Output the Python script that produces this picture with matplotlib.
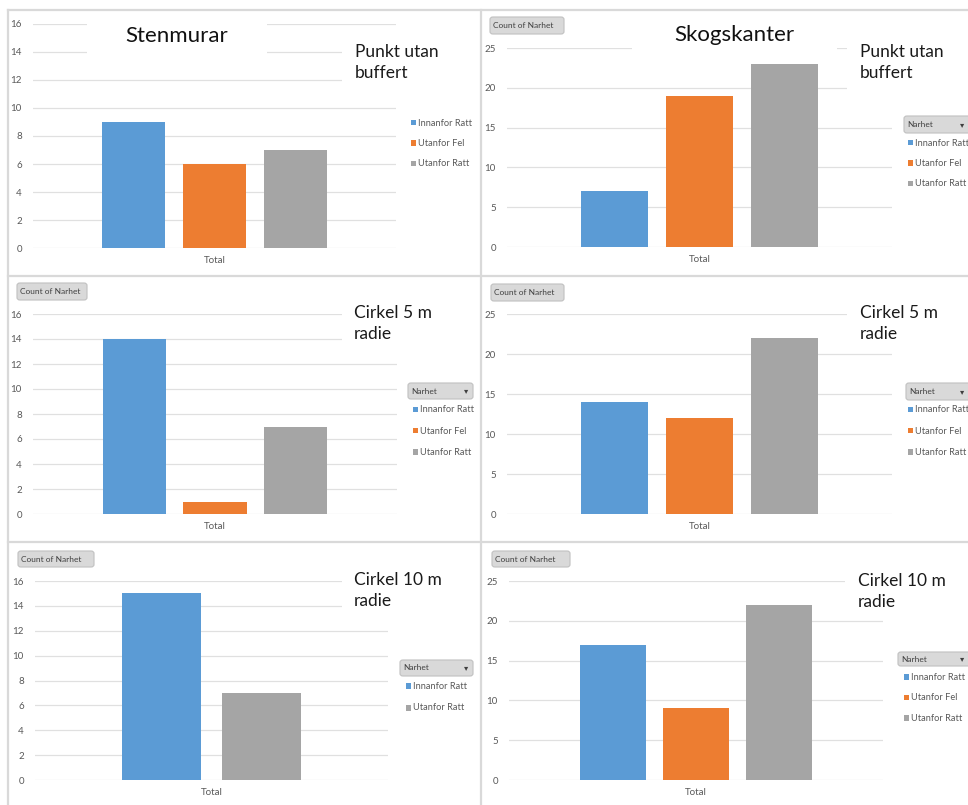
import matplotlib.pyplot as plt
from matplotlib.patches import Rectangle, FancyBboxPatch
from matplotlib.lines import Line2D

plt.rcParams['font.family'] = ['Lato', 'DejaVu Sans']

W, H = 968, 805

series3 = ["Innanfor Ratt", "Utanfor Fel", "Utanfor Ratt"]
series2 = ["Innanfor Ratt", "Utanfor Ratt"]
colors = {"Innanfor Ratt": "#5B9BD5", "Utanfor Fel": "#ED7D31", "Utanfor Ratt": "#A5A5A5"}

sten_punkt = [9, 6, 7]
sten_cirkel5 = [14, 1, 7]
sten_cirkel10 = [15, 7]
skog_punkt = [7, 19, 23]
skog_cirkel5 = [14, 12, 22]
skog_cirkel10 = [17, 9, 22]

sten_ticks = [0, 2, 4, 6, 8, 10, 12, 14, 16]
skog_ticks = [0, 5, 10, 15, 20, 25]
category = "Total"

fig = plt.figure(figsize=(W / 100, H / 100), dpi=100)
fig.patch.set_facecolor("white")


def fx(px):
    return px / W


def fy(py):
    return 1 - py / H


def white_box(x0, x1, y0, y1):
    fig.patches.append(Rectangle((fx(x0), fy(y1)), (x1 - x0) / W, (y1 - y0) / H,
                                 transform=fig.transFigure, facecolor="white",
                                 edgecolor="none", zorder=2))


def button(x0, x1, y0, y1, label, arrow=False):
    fig.patches.append(FancyBboxPatch((fx(x0), fy(y1)), (x1 - x0) / W, (y1 - y0) / H,
                                      boxstyle="round,pad=0,rounding_size=0.003",
                                      transform=fig.transFigure, facecolor="#d9d9d9",
                                      edgecolor="#c0c0c0", linewidth=0.8, zorder=3))
    fig.text(fx(x0 + 3), fy((y0 + y1) / 2), label, fontsize=6, color="#404040",
             ha="left", va="center", zorder=4)
    if arrow:
        fig.text(fx(min(x1 - 7, 962)), fy((y0 + y1) / 2), "\u25be", fontsize=6,
                 color="#404040", ha="center", va="center", family="DejaVu Sans", zorder=4)


def panel(box, values, names, ticks, sub, sub_xy, legend_x, legend_y, gap):
    x0, x1, y0, y1 = box
    ax = fig.add_axes([fx(x0), fy(y1), (x1 - x0) / W, (y1 - y0) / H])
    n = len(values)
    step, width = (0.222, 0.174) if n == 3 else (0.283, 0.224)
    for i, (v, name) in enumerate(zip(values, names)):
        ax.bar(0.5 + (i - (n - 1) / 2) * step, v, width=width, color=colors[name], zorder=2)
    ax.set_xlim(0, 1)
    ax.set_ylim(0, ticks[-1])
    ax.set_yticks(ticks)
    ax.set_xticks([0.5])
    ax.set_xticklabels([category])
    ax.yaxis.grid(True, color="#e0e0e0", linewidth=0.9)
    ax.set_axisbelow(True)
    for s in ax.spines.values():
        s.set_visible(False)
    ax.tick_params(length=0, labelsize=7, colors="#595959")
    ax.tick_params(axis="y", pad=8)
    ax.tick_params(axis="x", pad=6)
    # subtitle
    sx, sy = sub_xy
    for k, line in enumerate(sub):
        fig.text(fx(sx), fy(sy + k * 21), line, fontsize=12.5, color="#1a1a1a",
                 ha="left", va="baseline", zorder=4)
    # legend
    for k, name in enumerate(names):
        yy = legend_y + k * gap
        fig.patches.append(Rectangle((fx(legend_x - 2.5), fy(yy + 2.5)), 5.5 / W, 5.5 / H,
                                     transform=fig.transFigure, facecolor=colors[name],
                                     edgecolor="none", zorder=3))
        fig.text(fx(legend_x + 5), fy(yy), name, fontsize=6.7, color="#595959",
                 ha="left", va="center", zorder=4)
    return ax


# panel borders
border = dict(color="#d9d9d9", linewidth=1.6, transform=fig.transFigure)
fig.lines.append(Line2D([fx(8), fx(968)], [fy(10), fy(10)], **border))
fig.lines.append(Line2D([fx(8), fx(968)], [fy(276), fy(276)], **border))
fig.lines.append(Line2D([fx(8), fx(968)], [fy(542), fy(542)], **border))
fig.lines.append(Line2D([fx(8), fx(8)], [fy(10), fy(805)], **border))
fig.lines.append(Line2D([fx(481), fx(481)], [fy(10), fy(805)], **border))

# top row: punkt utan buffert
panel((33, 396, 24, 248), sten_punkt, series3, sten_ticks, ["Punkt utan", "buffert"],
      (355, 57), 413, 123, 20.5)
white_box(87, 267, 12, 58)
white_box(342, 400, 40, 84)
fig.text(fx(177), fy(42), "Stenmurar", fontsize=16, color="#111111", ha="center",
         va="baseline", zorder=4)

panel((507, 892, 48, 247), skog_punkt, series3, skog_ticks, ["Punkt utan", "buffert"],
      (860, 57), 910, 143, 20.5)
white_box(632, 837, 15, 56)
white_box(847, 900, 38, 95)
fig.text(fx(734), fy(41), "Skogskanter", fontsize=16, color="#111111", ha="center",
         va="baseline", zorder=4)
button(490, 564, 17, 34, "Count of Narhet")
button(904, 975, 116, 133, "Narhet", arrow=True)

# middle row: cirkel 5 m
panel((33, 397, 314, 514), sten_cirkel5, series3, sten_ticks, ["Cirkel 5 m", "radie"],
      (354, 318), 415, 410, 21)
white_box(342, 400, 300, 346)
button(17, 87, 283, 300, "Count of Narhet")
button(408, 473, 383, 399, "Narhet", arrow=True)

panel((507, 892, 314, 514), skog_cirkel5, series3, skog_ticks, ["Cirkel 5 m", "radie"],
      (860, 318), 910, 410, 21)
white_box(847, 900, 300, 345)
button(491, 564, 284, 301, "Count of Narhet")
button(906, 975, 383, 400, "Narhet", arrow=True)

# bottom row: cirkel 10 m
panel((35, 388, 581, 780), sten_cirkel10, series2, sten_ticks, ["Cirkel 10 m", "radie"],
      (354, 585), 408, 686, 22)
white_box(342, 395, 566, 612)
button(18, 94, 551, 567, "Count of Narhet")
button(400, 473, 660, 676, "Narhet", arrow=True)

panel((509, 883, 581, 780), skog_cirkel10, series3, skog_ticks, ["Cirkel 10 m", "radie"],
      (858, 586), 906, 677, 20.5)
white_box(845, 900, 566, 600)
button(492, 570, 551, 567, "Count of Narhet")
button(898, 975, 652, 666, "Narhet", arrow=True)

fig.savefig("out.png", dpi=100)
